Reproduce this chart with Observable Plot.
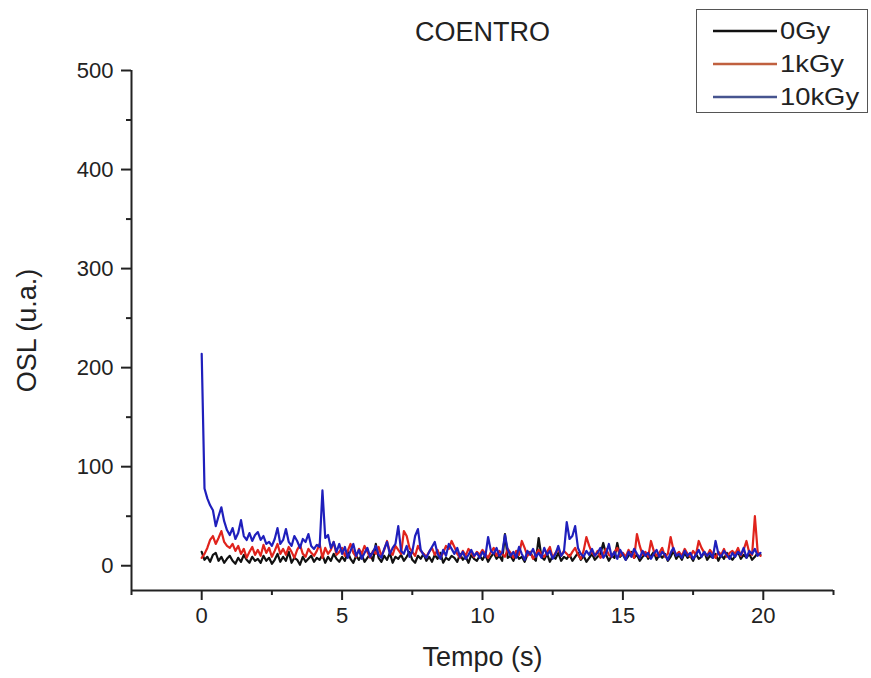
<!DOCTYPE html>
<html>
<head>
<meta charset="utf-8">
<script src="https://cdn.jsdelivr.net/npm/d3@7"></script>
<script src="https://cdn.jsdelivr.net/npm/@observablehq/plot@0.6"></script>
<style>
  body { margin: 0; background: #fff; }
  #wrap { position: relative; width: 871px; height: 678px; font-family: "Liberation Sans", Arial, sans-serif; }
  #legend { position: absolute; left: 696px; top: 9px; width: 172px; height: 104px; border: 1px solid #555; background: #fff; box-sizing: border-box; }
  .row { position: absolute; left: 0; height: 30px; display: flex; align-items: center; }
  .row svg { margin-left: 16px; }
  .row span { font-size: 24px; color: #222; margin-left: 3px; display: inline-block; transform: scaleX(1.14); transform-origin: left center; }
</style>
</head>
<body>
<div id="wrap"></div>
<script>
const title = "COENTRO";
const xLabel = "Tempo (s)";
const yLabel = "OSL (u.a.)";
const seriesNames = ["0Gy", "1kGy", "10kGy"];
const seriesColors = ["#111111", "#e0231c", "#1f1fbc"];
const legendColors = ["#111111", "#c0603f", "#46548f"];
const xTicks = [0, 5, 10, 15, 20];
const xMinorTicks = [-2.5, 2.5, 7.5, 12.5, 17.5, 22.5];
const yTicks = [0, 100, 200, 300, 400, 500];
const yMinorTicks = [50, 150, 250, 350, 450];

const times = [
0.0,0.1,0.2,0.3,0.4,0.5,0.6,0.7,0.8,0.9,
1.0,1.1,1.2,1.3,1.4,1.5,1.6,1.7,1.8,1.9,
2.0,2.1,2.2,2.3,2.4,2.5,2.6,2.7,2.8,2.9,
3.0,3.1,3.2,3.3,3.4,3.5,3.6,3.7,3.8,3.9,
4.0,4.1,4.2,4.3,4.4,4.5,4.6,4.7,4.8,4.9,
5.0,5.1,5.2,5.3,5.4,5.5,5.6,5.7,5.8,5.9,
6.0,6.1,6.2,6.3,6.4,6.5,6.6,6.7,6.8,6.9,
7.0,7.1,7.2,7.3,7.4,7.5,7.6,7.7,7.8,7.9,
8.0,8.1,8.2,8.3,8.4,8.5,8.6,8.7,8.8,8.9,
9.0,9.1,9.2,9.3,9.4,9.5,9.6,9.7,9.8,9.9,
10.0,10.1,10.2,10.3,10.4,10.5,10.6,10.7,10.8,10.9,
11.0,11.1,11.2,11.3,11.4,11.5,11.6,11.7,11.8,11.9,
12.0,12.1,12.2,12.3,12.4,12.5,12.6,12.7,12.8,12.9,
13.0,13.1,13.2,13.3,13.4,13.5,13.6,13.7,13.8,13.9,
14.0,14.1,14.2,14.3,14.4,14.5,14.6,14.7,14.8,14.9,
15.0,15.1,15.2,15.3,15.4,15.5,15.6,15.7,15.8,15.9,
16.0,16.1,16.2,16.3,16.4,16.5,16.6,16.7,16.8,16.9,
17.0,17.1,17.2,17.3,17.4,17.5,17.6,17.7,17.8,17.9,
18.0,18.1,18.2,18.3,18.4,18.5,18.6,18.7,18.8,18.9,
19.0,19.1,19.2,19.3,19.4,19.5,19.6,19.7,19.8,19.9
];

const osl0Gy = [
14,6,9,4,11,13,5,9,3,7,
10,5,2,8,4,11,6,3,9,5,
7,3,10,5,8,2,6,12,4,9,
5,14,3,8,6,1,9,4,7,10,
4,8,6,11,3,9,5,12,7,4,
9,5,14,7,3,10,6,11,4,8,
12,5,22,8,4,10,6,13,3,9,
7,11,5,9,14,6,3,10,7,12,
5,9,4,11,7,13,3,8,6,10,
8,4,12,6,9,3,11,7,5,10,
6,11,4,9,13,7,10,5,32,8,
10,5,12,7,9,4,11,14,8,5,
28,9,6,12,4,10,7,13,5,9,
7,11,5,9,13,6,10,4,8,12,
6,9,12,23,11,5,10,8,23,9,
12,6,10,14,8,11,5,9,13,7,
10,14,6,11,8,12,5,9,15,7,
11,6,13,8,10,5,12,7,9,14,
6,10,8,12,5,11,7,13,9,6,
10,14,7,11,8,12,6,9,13,11
];

const osl1kGy = [
8,12,18,26,30,22,28,35,24,20,
18,22,15,20,12,17,8,14,19,11,
16,10,21,13,18,9,15,22,12,17,
11,19,14,8,16,21,12,9,17,13,
10,15,22,8,18,12,16,24,11,14,
18,10,15,22,13,9,17,12,20,14,
8,15,12,19,10,16,25,14,11,20,
16,12,35,30,18,14,10,20,15,12,
9,14,18,11,16,8,13,20,17,25,
19,12,8,15,10,17,13,9,14,11,
16,12,8,14,18,10,15,12,9,17,
13,8,15,11,25,18,10,14,7,12,
16,11,9,14,19,8,13,17,10,15,
12,9,14,18,11,7,15,29,20,13,
10,15,8,12,17,11,9,14,18,10,
13,9,16,12,8,32,20,11,14,9,
25,15,10,13,18,9,12,29,16,11,
14,10,17,12,9,15,11,25,18,13,
10,16,12,8,14,11,17,9,13,15,
12,18,10,16,25,13,11,50,14,10
];

const osl10kGy = [
214,78,68,61,56,40,50,59,45,36,
31,38,27,33,46,30,26,33,25,31,
34,26,30,22,24,20,27,38,22,26,
37,24,20,30,25,18,27,24,32,20,
17,21,19,76,28,31,18,24,14,22,
12,19,8,15,22,10,16,7,13,18,
9,14,20,11,8,17,24,12,18,22,
40,15,12,20,9,14,30,37,16,11,
8,14,19,24,12,7,16,10,22,17,
12,18,9,14,7,11,16,10,13,8,
14,9,29,15,12,18,10,13,31,16,
10,14,8,19,12,6,15,11,17,9,
13,8,18,11,15,7,12,20,10,14,
44,27,30,40,18,12,9,15,11,17,
10,13,18,8,12,22,9,14,7,16,
11,6,14,9,17,12,8,15,10,13,
7,12,16,9,14,11,6,13,18,10,
12,8,15,10,13,7,11,16,9,14,
10,13,8,25,12,9,15,11,7,13,
9,14,11,18,8,15,12,17,10,13
];

const seriesValues = [osl0Gy, osl1kGy, osl10kGy];

const lineMarks = seriesValues.map((vals, i) =>
  Plot.line(times.map((t, j) => ({t, v: vals[j]})), {
    x: "t", y: "v", stroke: seriesColors[i], strokeWidth: 2.2, strokeLinejoin: "round"
  })
);

const chart = Plot.plot({
  width: 871,
  height: 678,
  marginLeft: 131,
  marginRight: 38,
  marginTop: 70,
  marginBottom: 88,
  x: {domain: [xMinorTicks[0], xMinorTicks[xMinorTicks.length - 1]]},
  y: {domain: [-25, 500]},
  style: {fontFamily: "'Liberation Sans', Arial, sans-serif", fontSize: "22px", color: "#222", background: "white"},
  marks: [
    Plot.axisY({ticks: yTicks, tickSize: 10, tickPadding: 8, label: null, strokeWidth: 2, fontSize: 22}),
    Plot.axisY({ticks: yMinorTicks, tickSize: 5, tickFormat: () => "", label: null, strokeWidth: 2}),
    Plot.axisX({ticks: xTicks, tickSize: 10, tickPadding: 7, label: null, strokeWidth: 2, fontSize: 22}),
    Plot.axisX({ticks: xMinorTicks, tickSize: 5, tickFormat: () => "", label: null, strokeWidth: 2}),
    Plot.ruleX([xMinorTicks[0]], {stroke: "#222", strokeWidth: 2}),
    Plot.ruleY([-25], {stroke: "#222", strokeWidth: 2}),
    ...lineMarks,
    Plot.text([title], {frameAnchor: "top", lineAnchor: "middle", dy: -38, text: d => d, fontSize: 27, fill: "#222"}),
    Plot.text([xLabel], {frameAnchor: "bottom", lineAnchor: "middle", dy: 67, text: d => d, fontSize: 27, fill: "#222"}),
    Plot.text([yLabel], {frameAnchor: "left", textAnchor: "middle", lineAnchor: "middle", dx: -104, rotate: -90, text: d => d, fontSize: 27, fill: "#222"})
  ]
});

const wrap = document.getElementById("wrap");
wrap.appendChild(chart);

const legend = document.createElement("div");
legend.id = "legend";
seriesNames.forEach((name, i) => {
  const row = document.createElement("div");
  row.className = "row";
  row.style.top = (6 + i * 33) + "px";
  row.innerHTML = `<svg width="64" height="6"><line x1="0" y1="3" x2="64" y2="3" stroke="${legendColors[i]}" stroke-width="2.5"/></svg><span>${name}</span>`;
  legend.appendChild(row);
});
wrap.appendChild(legend);
</script>
</body>
</html>
